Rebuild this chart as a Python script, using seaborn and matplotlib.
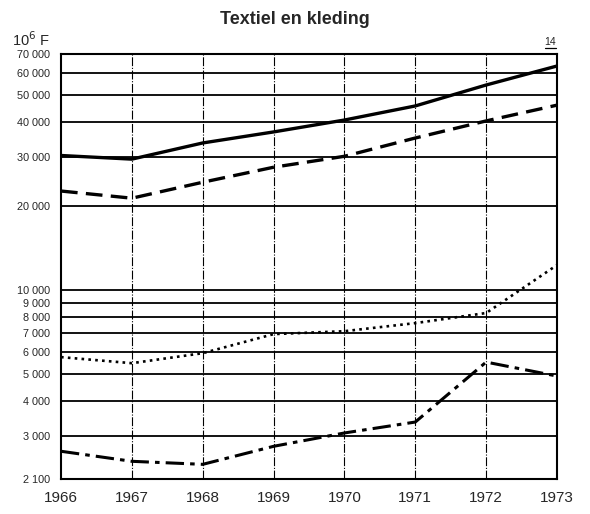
import numpy as np
import pandas as pd
import matplotlib
matplotlib.use("Agg")
import matplotlib.pyplot as plt
import seaborn as sns

# data (10^6 F, log scale)
years = [1966, 1967, 1968, 1969, 1970, 1971, 1972, 1973]
solid_vals = [30300, 29400, 33600, 36800, 40600, 45600, 54200, 63400]
dashed_vals = [22600, 21300, 24300, 27500, 30100, 35000, 40300, 45900]
dotted_vals = [5740, 5460, 5930, 6940, 7110, 7600, 8260, 12270]
dashdot_vals = [2640, 2430, 2370, 2750, 3070, 3360, 5510, 4910]

y_ticks = [2100, 3000, 4000, 5000, 6000, 7000, 8000, 9000, 10000,
           20000, 30000, 40000, 50000, 60000, 70000]

series = {
    "solid": solid_vals,
    "dashed": dashed_vals,
    "dotted": dotted_vals,
    "dashdot": dashdot_vals,
}
styles = {
    "solid": dict(dashes=(None, None), lw=2.4),
    "dashed": dict(dashes=(5, 2.5), lw=2.4),
    "dotted": dict(dashes=(1, 1.6), lw=1.9),
    "dashdot": dict(dashes=(6, 2, 1.5, 2), lw=2.2),
}

sns.set_style("white")
plt.rcParams['font.family'] = ['Liberation Sans', 'DejaVu Sans']

fig = plt.figure(figsize=(5.9, 5.14), dpi=100)
ax = fig.add_axes([61 / 590, 1 - 479 / 514, (557 - 61) / 590, (479 - 54) / 514])

for name, vals in series.items():
    df = pd.DataFrame({"year": years, "value": vals})
    st = styles[name]
    sns.lineplot(data=df, x="year", y="value", ax=ax, color="black",
                 lw=st["lw"], legend=False)
    l = ax.lines[-1]
    if st["dashes"][0] is not None:
        l.set_dashes(st["dashes"])
    l.set_zorder(3)

ax.set_yscale("log")
ax.set_ylim(2100, 70000)
ax.set_xlim(1966, 1973)

ax.set_yticks(y_ticks)
ax.set_yticklabels([f"{v:,}".replace(",", " ") for v in y_ticks], fontsize=7.8)
ax.yaxis.set_minor_locator(matplotlib.ticker.NullLocator())
ax.set_xticks(years)
ax.set_xticklabels([str(y) for y in years], fontsize=11)
ax.tick_params(axis="both", length=0)
ax.tick_params(axis="x", pad=9)
ax.tick_params(axis="y", pad=8)

for v in y_ticks:
    ax.axhline(v, color="black", lw=1.3, zorder=1)
for yr in years[1:-1]:
    ax.axvline(yr, color="black", lw=0.8, dashes=(8, 1.5, 1, 1.5), zorder=1)

for s in ax.spines.values():
    s.set_visible(True)
    s.set_color("black")
    s.set_linewidth(1.5)

ax.set_xlabel("")
ax.set_ylabel("")

fig.text(0.5, 0.962, "Textiel en kleding", ha="center", va="center",
         fontsize=13, fontweight="bold")
fig.text(12 / 590, 1 - 40 / 514, "10$^6$ F", ha="left", va="center", fontsize=10.5)
fig.text(550 / 590, 1 - 42 / 514, "14", ha="center", va="center", fontsize=7.5)
fig.add_artist(plt.Line2D([545 / 590, 556 / 590], [1 - 48 / 514, 1 - 48 / 514],
                          color="black", lw=0.9))

fig.savefig("out.png", dpi=100, facecolor="white")
